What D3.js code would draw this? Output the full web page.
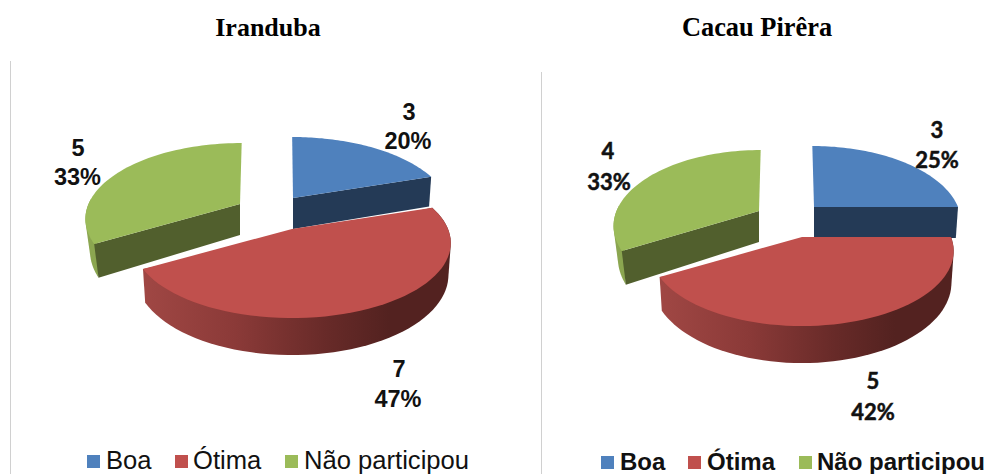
<!DOCTYPE html>
<html><head><meta charset="utf-8">
<script src="https://cdn.jsdelivr.net/npm/d3@7/dist/d3.min.js"></script>
<style>html,body{margin:0;padding:0;background:#fff;overflow:hidden}svg{display:block}</style>
</head><body><svg id="c" width="989" height="474"></svg>
<script>
const categories = ["Boa", "Ótima", "Não participou"];
const valuesIranduba = [3, 7, 5];
const valuesCacau = [3, 5, 4];
const titles = ["Iranduba", "Cacau Pirêra"];
const topColors = ["#4f81bd", "#c0504d", "#9bbb59"];
const wallColors = ["#243a56", "#8c3a38", "#515f2d"];

// layout only
const layouts = [
  { values: valuesIranduba, title: titles[0], titleX: 268, titleSize: 26, lineX: 10.5, lineTop: 61,
    rx: [154, 156, 151.5], ry: 72.4, persp: 0.187, lean: [-1, 0, 2], botScale: [0.985, 0.985, 0.97],
    apex: [[293,198],[292,229],[240,204]],
    labels: [[409,120,408,149],[399,377,398,407],[78,156,77.5,185]],
    labelFont: "Liberation Sans", labelSize: 23.5, labelWeight: 700, labelStroke: 0,
    legendY: 468, legendFont: 25.6, legendWeight: 400,
    legendBox: [87,175,285], legendText: [106,193,304] },
  { values: valuesCacau, title: titles[1], titleX: 757, titleSize: 26.4, lineX: 541.5, lineTop: 72,
    rx: [144, 149, 142.5], ry: 72.4, persp: 0.187, lean: [-2, 0, 2], botScale: [0.985, 0.985, 0.97],
    apex: [[814,207],[802,237],[759,211]],
    labels: [[937,138,937,168],[873,389,873,420],[608,159,609,190]],
    labelFont: "Lato", labelSize: 22, labelWeight: 700, labelStroke: 0.5,
    legendY: 469, legendFont: 24, legendWeight: 700,
    legendBox: [601,688,799], legendText: [620,707,817] }
];

const svg = d3.select("#c");
const defs = svg.append("defs");
const pie = d3.pie().sort(null);
const colorTop = d3.scaleOrdinal(categories, topColors);
const colorWall = d3.scaleOrdinal(categories, wallColors);
const line = d3.line();

layouts.forEach((L, li) => {
  const grad = defs.append("linearGradient").attr("id", "redWall" + li)
    .attr("x1", 0).attr("x2", 1).attr("y1", 0).attr("y2", 0);
  [[0,"#a04744"],[0.3,"#8b3a38"],[0.6,"#672a28"],[0.8,"#532220"],[1,"#532220"]]
    .forEach(([o,c]) => grad.append("stop").attr("offset", o).attr("stop-color", c));

  const topPt = i => a => {
    const [ax, ay] = L.apex[i], u = Math.sin(a), v = Math.cos(a), s = 1 / (1 + L.persp * v);
    return [ax + (L.rx[i] * u + L.lean[i] * v) * s, ay - L.ry * v * s];
  };
  const botPt = i => a => {
    const [ax, ay] = L.apex[i], u = Math.sin(a), v = Math.cos(a), s = 1 / (1 + L.persp * v);
    return [ax + (L.botScale[i] * L.rx[i] * u + L.lean[i] * v) * s, ay - 0.985 * L.ry * v * s + 31 + (s - 1) * 32];
  };
  const arcs = pie(L.values);
  const samples = (a, b) => d3.range(0, 61).map(k => a + (b - a) * k / 60);
  const g = svg.append("g").attr("class", "pie").style("filter", "blur(0.5px)");

  // draw order: blue, green, red
  [0, 2, 1].forEach(i => {
    const d = arcs[i], cat = categories[i], T = topPt(i), B = botPt(i), apex = L.apex[i];
    const slice = g.append("g");
    if (i === 1) {
      const pts = samples(d.startAngle, d.endAngle);
      const hull = d3.polygonHull(pts.map(T).concat(pts.map(B)));
      slice.append("path").attr("d", line(hull) + "Z").attr("fill", `url(#redWall${li})`);
    }
    if (i === 2) {
      const pts = samples(d.startAngle, d.startAngle + 0.6);
      const hull = d3.polygonHull(pts.map(T).concat(pts.map(B)));
      slice.append("path").attr("d", line(hull) + "Z").attr("fill", "#8ba650");
      const a = d.startAngle;
      slice.append("path").attr("d", line([apex, T(a), B(a), [apex[0], apex[1] + 31]]) + "Z")
        .attr("fill", colorWall(cat));
    }
    if (i === 0) {
      const a = d.endAngle;
      slice.append("path").attr("d", line([apex, T(a), B(a), [apex[0], apex[1] + 31]]) + "Z")
        .attr("fill", colorWall(cat));
    }
    slice.append("path")
      .attr("d", line([apex].concat(samples(d.startAngle, d.endAngle).map(T))) + "Z")
      .attr("fill", colorTop(cat));
  });

  const total = d3.sum(L.values);
  const txt = svg.append("g").attr("font-family", L.labelFont + ", sans-serif")
    .attr("font-size", L.labelSize).attr("font-weight", L.labelWeight)
    .attr("fill", "#111").attr("stroke", "#111").attr("stroke-width", L.labelStroke)
    .attr("text-anchor", "middle");
  L.values.forEach((v, i) => {
    const p = L.labels[i];
    txt.append("text").attr("x", p[0]).attr("y", p[1]).text(v);
    txt.append("text").attr("x", p[2]).attr("y", p[3]).text(d3.format(".0%")(v / total));
  });

  svg.append("text").attr("x", L.titleX).attr("y", 36).attr("text-anchor", "middle")
    .attr("font-family", "Liberation Serif, serif").attr("font-weight", 700)
    .attr("font-size", L.titleSize).attr("fill", "#000").text(L.title);

  svg.append("line").attr("x1", L.lineX).attr("x2", L.lineX).attr("y1", L.lineTop).attr("y2", 474)
    .attr("stroke", "#d0d0d0").attr("stroke-width", 1);

  categories.forEach((c, i) => {
    svg.append("rect").attr("x", L.legendBox[i]).attr("y", L.legendY - 13)
      .attr("width", 13).attr("height", 13).attr("fill", colorTop(c));
    svg.append("text").attr("x", L.legendText[i]).attr("y", L.legendY + 1)
      .attr("font-family", "Liberation Sans, sans-serif").attr("font-size", L.legendFont)
      .attr("font-weight", L.legendWeight).attr("fill", "#111").text(c);
  });
});
</script></body></html>
